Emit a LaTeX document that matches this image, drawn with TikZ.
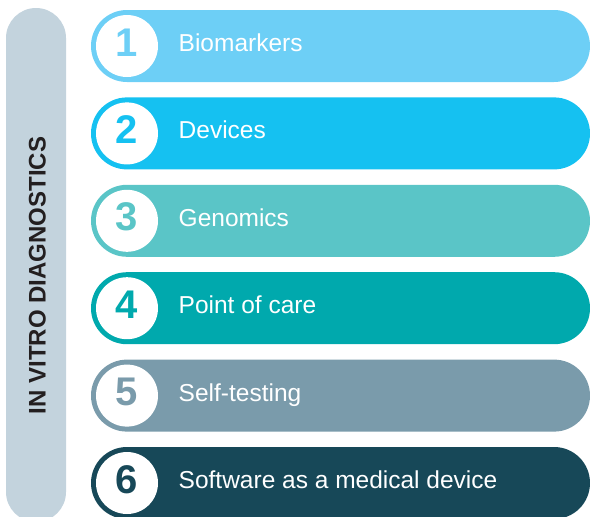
\documentclass[tikz,border=0pt]{standalone}
\usepackage{fontspec}
\setmainfont{Liberation Sans}
\definecolor{barcol}{HTML}{C3D3DD}
\definecolor{ivdtext}{HTML}{231F20}
\definecolor{rowa}{HTML}{6DCFF6}
\definecolor{rowb}{HTML}{15C1F1}
\definecolor{rowc}{HTML}{5AC5C7}
\definecolor{rowd}{HTML}{00A9AD}
\definecolor{rowe}{HTML}{7A9BAB}
\definecolor{rowf}{HTML}{174858}
\tikzset{
  numdisc/.style={circle, fill=white, minimum size=62pt, inner sep=0pt},
  numtext/.style={anchor=base, font=\bfseries\fontsize{40}{40}\selectfont},
  labtext/.style={anchor=base west, inner sep=0pt, text=white, font=\fontsize{24.5}{24.5}\selectfont}
}
\begin{document}
\begin{tikzpicture}[x=1pt,y=-1pt]
\useasboundingbox (0,0) rectangle (590,517);
\fill[barcol, rounded corners=30pt] (6,8) rectangle (66,522);
\node[rotate=90, anchor=base, inner sep=0pt, text=ivdtext, font=\bfseries\fontsize{24}{24}\selectfont] (ivd) at (45.5,275.5) {IN VITRO DIAGNOSTICS};
\foreach \i/\lab/\col in {1/Biomarkers/rowa, 2/Devices/rowb, 3/Genomics/rowc, 4/Point of care/rowd, 5/Self-testing/rowe, 6/Software as a medical device/rowf} {
  \pgfmathsetmacro\rowmid{46+87.4*(\i-1)}
  \fill[\col, rounded corners=35.9pt] (91,\rowmid-36) rectangle (590,\rowmid+36);
  \node[numdisc] (disc\i) at (127,\rowmid) {};
  \node[numtext, text=\col] (num\i) at (127,\rowmid+10) {\i};
  \node[labtext] (lab\i) at (178.5,\rowmid+5.5) {\lab};
}
\end{tikzpicture}
\end{document}
